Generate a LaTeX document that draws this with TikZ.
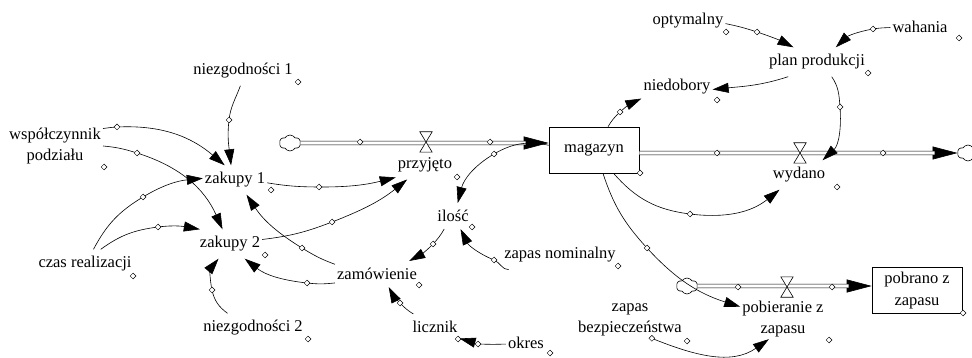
\documentclass[tikz,border=0pt]{standalone}
\usepackage{fontspec}
\setmainfont{Liberation Serif}
\usetikzlibrary{arrows.meta,shapes.geometric,shapes.symbols}
\begin{document}
\begin{tikzpicture}[x=1pt,y=1pt,
  lbl/.style={font=\rmfamily\fontsize{16.5}{21}\selectfont, inner xsep=2pt, inner ysep=7pt, align=center},
  stock/.style={draw, line width=0.6pt, minimum width=90pt, minimum height=46pt, inner sep=0pt, font=\rmfamily\fontsize{16.5}{22}\selectfont, align=center},
  dia/.style={diamond, draw, fill=white, inner sep=0pt, minimum size=6pt, line width=0.5pt},
  inf/.style={line width=0.6pt, -{Triangle[length=16pt,width=10pt]}},
  pipe/.style={line width=0.6pt, double=white, double distance=3.2pt},
  pipehead/.style={line width=0.6pt, -{Triangle[length=25pt,width=13pt]}},
  cloudn/.style={cloud, cloud puffs=6, cloud puff arc=120, aspect=1.4, draw, fill=white, line width=0.6pt, minimum width=21pt, minimum height=16pt, inner sep=0pt},
  valve/.style={minimum width=12pt, minimum height=20pt, inner sep=0pt},
  valvepath/.style={draw, fill=white, line width=0.6pt},
]
\useasboundingbox (0,0) rectangle (972,-358);

% ---------- variables ----------
\node[lbl] (niez1) at (243,-71) {niezgodności 1};
\node[lbl] (wsp) at (55,-146) {współczynnik\\podziału};
\node[lbl] (zak1) at (235,-180) {zakupy 1};
\node[lbl] (zak2) at (230,-244) {zakupy 2};
\node[lbl] (czas) at (85,-264) {czas realizacji};
\node[lbl] (niez2) at (253,-328) {niezgodności 2};
\node[lbl] (przy) at (425,-165) {przyjęto};
\node[lbl] (ilosc) at (453,-216) {ilość};
\node[lbl] (zapnom) at (560,-255) {zapas nominalny};
\node[lbl] (zamow) at (377,-274) {zamówienie};
\node[lbl] (licznik) at (435,-327) {licznik};
\node[lbl] (okres) at (526,-343) {okres};
\node[stock] (mag) at (594,-150) {magazyn};
\node[lbl] (optym) at (688,-21) {optymalny};
\node[lbl] (wah) at (920,-27) {wahania};
\node[lbl] (plan) at (817,-62) {plan produkcji};
\node[lbl] (niedob) at (677,-87) {niedobory};
\node[lbl] (wyd) at (799,-175) {wydano};
\node[stock] (pobrano) at (917,-290.5) {pobrano z\\zapasu};
\node[lbl, inner ysep=2pt] (pobier) at (783,-319) {pobieranie z\\zapasu};
\node[lbl, inner ysep=2pt] (zapbez) at (630,-320) {zapas\\bezpieczeństwa};

% ---------- clouds and valves ----------
\node[cloudn] (c1) at (290,-143) {};
\node[cloudn] (c2) at (968,-153) {};
\node[cloudn] (c3) at (687,-286) {};
\node[valve] (v1) at (426,-142) {};
\node[valve] (v2) at (800,-153) {};
\node[valve] (v3) at (787,-287) {};

% ---------- flows ----------
\draw[pipehead] (c1) -- (mag.west |- c1);
\draw[pipe, shorten >=23pt] (c1) -- (mag.west |- c1);
\draw[pipehead] (mag.east |- c2) -- (c2);
\draw[pipe, shorten >=23pt] (mag.east |- c2) -- (c2);
\draw[pipehead] (c3) -- (pobrano.west |- c3);
\draw[pipe, shorten >=23pt] (c3) -- (pobrano.west |- c3);
\foreach \v in {v1,v2,v3}{
  \draw[valvepath] (\v.north west) -- (\v.north east) -- (\v.south west) -- (\v.south east) -- cycle;
}

% ---------- arrow handles ----------
\coordinate (h1) at (229,-120);
\coordinate (h2) at (117,-127);
\coordinate (h3) at (137,-153);
\coordinate (h4) at (143,-197);
\coordinate (h5) at (158,-227);
\coordinate (h6) at (212,-290);
\coordinate (h7) at (302,-248);
\coordinate (h8) at (307,-283);
\coordinate (h9) at (319,-187);
\coordinate (h10) at (332,-222);
\coordinate (h11) at (494,-154);
\coordinate (h12) at (494,-260);
\coordinate (h13) at (433,-244);
\coordinate (h14) at (400,-303);
\coordinate (h15) at (478,-344);
\coordinate (h16) at (757,-32);
\coordinate (h17) at (873,-29);
\coordinate (h19) at (840,-107);
\coordinate (h20) at (620,-112);
\coordinate (h21) at (690,-214);
\coordinate (h22) at (647,-248);

% ---------- information arrows ----------
\draw[inf] (niez1.260) to[out=250,in=83.5] (h1) to[out=263.5,in=96.5] (zak1.105);
\draw[inf] (wsp.20) to[out=7,in=182.7] (h2) to[out=2.7,in=139.7] (zak1.125);
\draw[inf] (wsp.0) to[out=-5,in=162.5] (h3) to[out=-17.5,in=114] (zak2.117);
\draw[inf] (czas.60) to[out=62,in=211] (h4) to[out=31,in=185.6] (zak1.177);
\draw[inf] (czas.43) to[out=36,in=187.3] (h5) to[out=7.3,in=170] (zak2.154);
\draw[inf] (niez2.150) to[out=144,in=282.4] (h6) to[out=102.4,in=230.4] (zak2.232);
\draw[inf] (zamow.167) to[out=160,in=328.4] (h7) to[out=148.4,in=303.6] (zak1.-52);
\draw[inf] (zamow.192) to[out=186.3,in=353.7] (h8) to[out=173.7,in=322] (zak2.-45);
\draw[inf] (zak1.-5) to[out=-9.3,in=179.7] (h9) to[out=-0.3,in=194] (przy.203);
\draw[inf] (zak2.8) to[out=6.8,in=201.2] (h10) to[out=21.2,in=218.8] (przy.219);
\draw[inf] (mag.174) to[out=168.3,in=30.3] (h11) to[out=210.3,in=75.9] (ilosc.70);
\draw[inf] (zapnom.196) to[out=179,in=337.4] (h12) to[out=157.4,in=296] (ilosc.-60);
\draw[inf] (ilosc.236) to[out=240,in=46.3] (h13) to[out=226.3,in=28.3] (zamow.22);
\draw[inf] (licznik.149) to[out=148.5,in=314.1] (h14) to[out=134.1,in=297.5] (zamow.312);
\draw[inf] (okres.183) to[out=182,in=358] (h15) to[out=178,in=345] (licznik.335);
\draw[inf] (optym.-4) to[out=-11.5,in=161.7] (h16) to[out=-18.3,in=153] (plan.148);
\draw[inf] (wah.181) to[out=182.8,in=9.8] (h17) to[out=189.8,in=43.4] (plan.38);
\draw[inf] (plan.207) to[out=198,in=6] (niedob.-4);
\draw[inf] (plan.-45) to[out=-55.5,in=94.3] (h19) to[out=-85.7,in=42.9] (wyd.32);
\draw[inf] (mag.59) to[out=59.6,in=223] (h20) to[out=43,in=204.4] (niedob.198);
\draw[inf] (mag.-50) to[out=-48.9,in=172.9] (h21) to[out=-7.1,in=218.7] (wyd.217);
\draw[inf] (mag.-69) to[out=-71.7,in=132.5] (h22) to[out=-47.5,in=162.5] (pobier.164);
\draw[inf] (zapbez.-40) to[out=-22,in=215] (pobier.235);

% ---------- handle diamonds ----------
\foreach \h in {h1,h2,h3,h4,h5,h6,h7,h8,h9,h10,h11,h12,h13,h14,h15,h16,h17,h19,h20,h21,h22}{
  \node[dia] (d\h) at (\h) {};
}
\node[dia] (dh23) at (zapbez.-40) {};
\node[dia] (fh1) at (360,-142) {};
\node[dia] (fh2) at (490,-142) {};
\node[dia] (fh3) at (717,-153) {};
\node[dia] (fh4) at (883,-153) {};
\node[dia] (fh5) at (738,-287) {};
\node[dia] (fh6) at (832,-287) {};

% ---------- variable tag diamonds ----------
\node[dia] (tniez1) at (298,-82) {};
\node[dia] (twsp) at (104,-167) {};
\node[dia] (tzak1) at (271,-190) {};
\node[dia] (tzak2) at (265,-255) {};
\node[dia] (tczas) at (133,-276) {};
\node[dia] (tniez2) at (308,-339) {};
\node[dia] (tprzy) at (457,-177) {};
\node[dia] (tilosc) at (472,-227) {};
\node[dia] (tzapnom) at (618,-266) {};
\node[dia] (tzamow) at (419,-285) {};
\node[dia] (tlicznik) at (458,-339) {};
\node[dia] (tokres) at (550,-353) {};
\node[dia] (tmag) at (640,-173) {};
\node[dia] (toptym) at (726,-32) {};
\node[dia] (twah) at (959,-38) {};
\node[dia] (tplan) at (868,-73) {};
\node[dia] (tniedob) at (717,-100) {};
\node[dia] (twyd) at (837,-187) {};
\node[dia] (tpobrano) at (963,-313) {};
\node[dia] (tpobier) at (829,-340) {};
\node[dia] (tzapbez) at (687,-341) {};
\end{tikzpicture}
\end{document}
